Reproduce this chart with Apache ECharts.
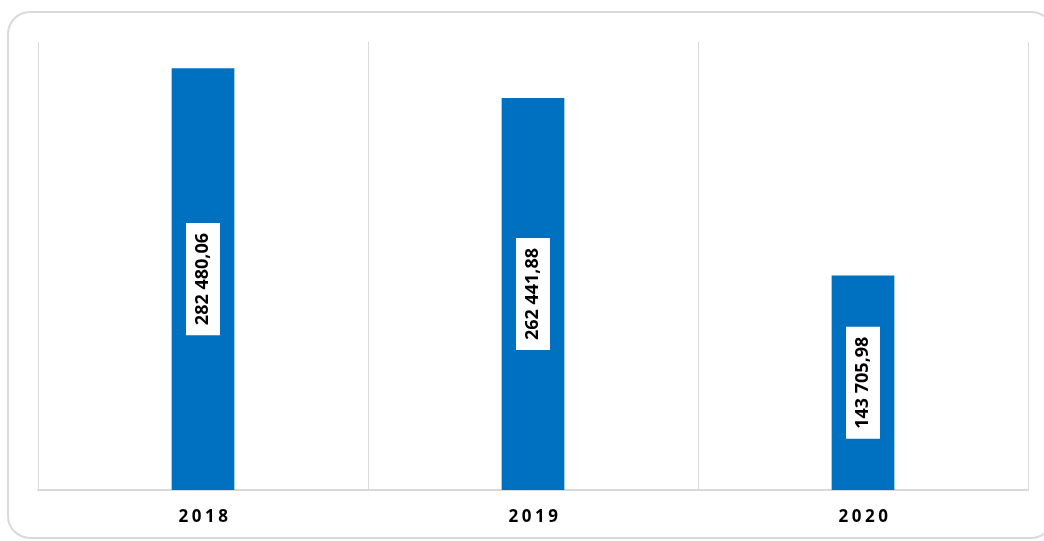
<!DOCTYPE html>
<html>
<head>
<meta charset="utf-8">
<script src="https://cdn.jsdelivr.net/npm/echarts@6/dist/echarts.min.js"></script>
<style>
    html, body { margin: 0; padding: 0; background: #fff; }
    #chart { width: 1044px; height: 541px; }
</style>
</head>
<body>
<div id="chart"></div>
<script>
// 数据
const years = ['2018', '2019', '2020'];
const amounts = [282480.06, 262441.88, 143705.98];
const yMax = 300000;

// 282480.06 -> "282 480,06"
function fmt(v) {
    let parts = v.toFixed(2).split('.');
    return parts[0].replace(/\B(?=(\d{3})+(?!\d))/g, ' ') + ',' + parts[1];
}

let myChart = echarts.init(document.getElementById('chart'));
let option = {
    animation: false,
    // 外框
    graphic: [{
        type: 'rect',
        shape: { x: 8, y: 12, width: 1045, height: 526, r: 22 },
        style: { fill: 'none', stroke: '#d9d9d9', lineWidth: 2 },
        z: -1
    }],
    grid: {
        left: 38,
        right: 16,
        top: 42,
        bottom: 51
    },
    xAxis: {
        type: 'category',
        data: years,
        axisTick: { show: false },
        axisLine: {
            lineStyle: { color: '#d9d9d9', width: 2 }
        },
        axisLabel: {
            margin: 19,
            // 字间距：每个字符单独加 padding
            formatter: v => v.split('').map(c => '{d|' + c + '}').join(''),
            rich: {
                d: {
                    color: '#000',
                    fontFamily: 'Open Sans',
                    fontWeight: 'bold',
                    fontSize: 17,
                    padding: [0, 1.5, 0, 2]
                }
            }
        },
        // 分类之间的竖线
        splitLine: {
            show: true,
            interval: 0,
            lineStyle: { color: '#d9d9d9', width: 1 }
        }
    },
    yAxis: {
        type: 'value',
        min: 0,
        max: yMax,
        show: false,
        splitLine: { show: false }
    },
    series: [{
        type: 'bar',
        data: amounts,
        barWidth: '19%',
        itemStyle: { color: '#0070c0' },
        label: {
            show: true,
            position: 'inside',
            rotate: 90,
            formatter: p => fmt(p.value),
            color: '#000',
            fontFamily: 'Open Sans',
            fontWeight: 'bold',
            fontSize: 18,
            backgroundColor: '#fff',
            padding: [8, 10, 8, 10]
        }
    }]
};
myChart.setOption(option);
</script>
</body>
</html>
